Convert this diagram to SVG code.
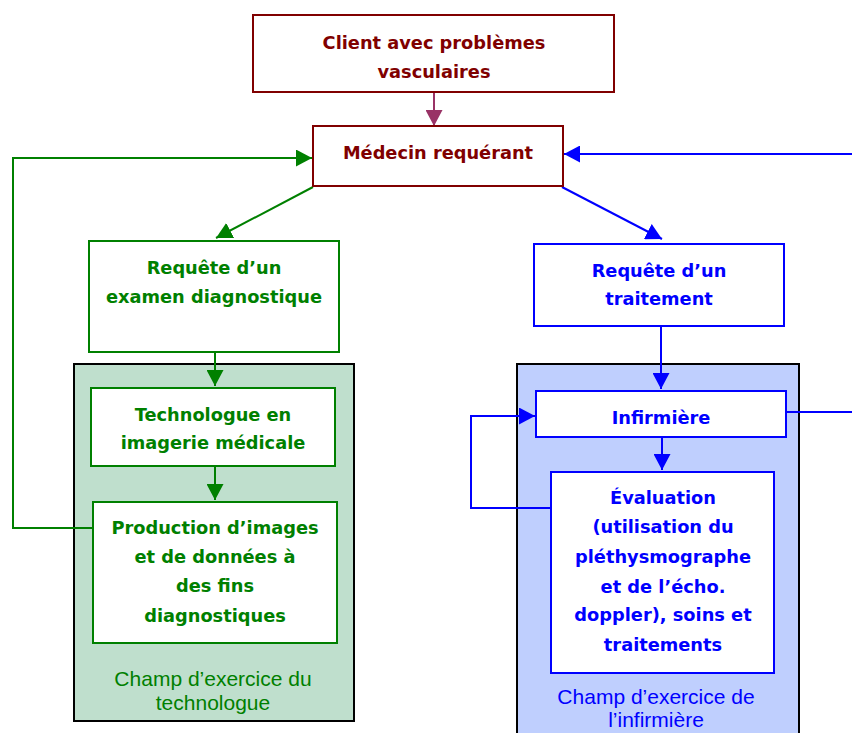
<svg xmlns="http://www.w3.org/2000/svg" width="852" height="733" viewBox="0 0 852 733">
<style>
.bx{fill:#fff;stroke-width:2}
.t{font-family:"DejaVu Sans",sans-serif;font-weight:bold;font-size:17.8px;text-anchor:middle}
.c{font-family:"Liberation Sans",Arial,sans-serif;font-size:21px;text-anchor:middle}
.ln{fill:none;stroke-width:2}
.red{stroke:#800000}.redt{fill:#800000}
.grn{stroke:#008000}.grnt{fill:#008000}
.blu{stroke:#0000ff}.blut{fill:#0000ff}
</style>
<defs>
<marker id="ag" markerUnits="userSpaceOnUse" markerWidth="17" markerHeight="17" refX="16" refY="8.5" orient="auto"><path d="M0,0 L16,8.5 L0,17 z" fill="#008000"/></marker>
<marker id="ab" markerUnits="userSpaceOnUse" markerWidth="17" markerHeight="17" refX="16" refY="8.5" orient="auto"><path d="M0,0 L16,8.5 L0,17 z" fill="#0000ff"/></marker>
<marker id="ap" markerUnits="userSpaceOnUse" markerWidth="17" markerHeight="17" refX="16" refY="8.5" orient="auto"><path d="M0,0 L16,8.5 L0,17 z" fill="#993366"/></marker>
</defs>
<g id="champ-technologue">
<rect x="74" y="364" width="280" height="357" fill="#bfdfcd" stroke="#000" stroke-width="2"/>
<text class="c grnt" x="213" y="686">Champ d’exercice du</text>
<text class="c grnt" x="213" y="710">technologue</text>
</g>
<g id="champ-infirmiere">
<rect x="517" y="364" width="282" height="380" fill="#bfcffe" stroke="#000" stroke-width="2"/>
<text class="c blut" x="656" y="704">Champ d’exercice de</text>
<text class="c blut" x="656" y="727">l’infirmière</text>
</g>
<g id="connectors">
<line class="ln" stroke="#993366" x1="434" y1="92" x2="434" y2="126" marker-end="url(#ap)"/>
<polyline class="ln grn" points="93,528 13,528 13,158 312,158" marker-end="url(#ag)"/>
<line class="ln grn" x1="313" y1="187" x2="216" y2="238" marker-end="url(#ag)"/>
<line class="ln grn" x1="215" y1="352" x2="215" y2="386" marker-end="url(#ag)"/>
<line class="ln grn" x1="215" y1="466" x2="215" y2="500" marker-end="url(#ag)"/>
<polyline class="ln blu" points="786,412 852,412"/>
<line class="ln blu" x1="852" y1="154" x2="564" y2="154" marker-end="url(#ab)"/>
<line class="ln blu" x1="562" y1="187" x2="662" y2="239" marker-end="url(#ab)"/>
<line class="ln blu" x1="661" y1="326" x2="661" y2="389" marker-end="url(#ab)"/>
<line class="ln blu" x1="662" y1="437" x2="662" y2="470" marker-end="url(#ab)"/>
<polyline class="ln blu" points="551,508 471,508 471,416 535,416" marker-end="url(#ab)"/>
</g>
<g id="client">
<rect class="bx red" x="253" y="15" width="361" height="77"/>
<text class="t redt" x="434" y="49">Client avec problèmes</text>
<text class="t redt" x="434" y="78">vasculaires</text>
</g>
<g id="medecin">
<rect class="bx red" x="313" y="126" width="250" height="60"/>
<text class="t redt" x="438" y="159">Médecin requérant</text>
</g>
<g id="requete-examen">
<rect class="bx grn" x="89" y="241" width="250" height="111"/>
<text class="t grnt" x="214" y="274">Requête d’un</text>
<text class="t grnt" x="214" y="303">examen diagnostique</text>
</g>
<g id="technologue">
<rect class="bx grn" x="91" y="388" width="244" height="78"/>
<text class="t grnt" x="213" y="421">Technologue en</text>
<text class="t grnt" x="213" y="449">imagerie médicale</text>
</g>
<g id="production">
<rect class="bx grn" x="93" y="502" width="244" height="141"/>
<text class="t grnt" x="215" y="534">Production d’images</text>
<text class="t grnt" x="215" y="563">et de données à</text>
<text class="t grnt" x="215" y="592">des fins</text>
<text class="t grnt" x="215" y="622">diagnostiques</text>
</g>
<g id="requete-traitement">
<rect class="bx blu" x="534" y="244" width="250" height="82"/>
<text class="t blut" x="659" y="277">Requête d’un</text>
<text class="t blut" x="659" y="305">traitement</text>
</g>
<g id="infirmiere">
<rect class="bx blu" x="536" y="391" width="250" height="46"/>
<text class="t blut" x="661" y="424">Infirmière</text>
</g>
<g id="evaluation">
<rect class="bx blu" x="551" y="472" width="223" height="201"/>
<text class="t blut" x="663" y="504">Évaluation</text>
<text class="t blut" x="663" y="533">(utilisation du</text>
<text class="t blut" x="663" y="563">pléthysmographe</text>
<text class="t blut" x="663" y="593">et de l’écho.</text>
<text class="t blut" x="663" y="621">doppler), soins et</text>
<text class="t blut" x="663" y="651">traitements</text>
</g>
</svg>
